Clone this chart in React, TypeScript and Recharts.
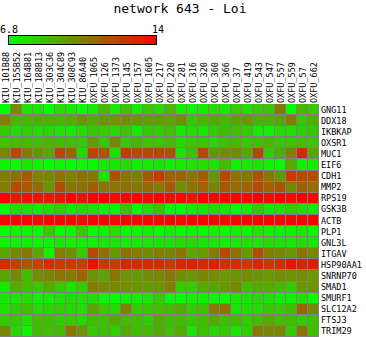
import { ScatterChart, Scatter, XAxis, YAxis, ReferenceArea } from "recharts";

const columns = [
  "KIU_101B88", "KIU_155B52", "KIU_164B81", "KIU_188B13", "KIU_303C36", "KIU_304C89",
  "KIU_308C93", "KIU_86A40", "OXFU_1065", "OXFU_126", "OXFU_1373", "OXFU_145",
  "OXFU_157", "OXFU_1605", "OXFU_217", "OXFU_220", "OXFU_281", "OXFU_316",
  "OXFU_320", "OXFU_360", "OXFU_366", "OXFU_37", "OXFU_419", "OXFU_543",
  "OXFU_547", "OXFU_557", "OXFU_559", "OXFU_57", "OXFU_662",
];

const genes = [
  "GNG11", "DDX18", "IKBKAP", "OXSR1", "MUC1", "EIF6", "CDH1", "MMP2", "RPS19",
  "GSK3B", "ACTB", "PLP1", "GNL3L", "ITGAV", "HSP90AA1", "SNRNP70", "SMAD1",
  "SMURF1", "SLC12A2", "FTSJ3", "TRIM29",
];

// one row of expression values per gene, in column order
const GNG11 = [6.8, 10.0, 7.6, 7.6, 6.8, 7.8, 7.4, 6.8, 7.4, 8.7, 7.4, 8.4, 7.3, 8.3, 7.9, 8.7, 7.4, 7.1, 7.4, 7.8, 7.4, 8.2, 7.8, 8.2, 8.4, 10.6, 6.9, 8.8, 8.3];
const DDX18 = [10.3, 8.8, 9.0, 9.0, 9.0, 8.8, 9.0, 9.7, 9.2, 9.7, 9.7, 9.9, 9.7, 9.5, 9.5, 9.3, 9.9, 8.3, 9.0, 9.2, 8.8, 9.4, 9.7, 9.0, 9.0, 9.3, 10.5, 8.4, 9.0];
const IKBKAP = [8.3, 7.8, 8.2, 7.8, 7.9, 7.5, 7.4, 7.8, 8.3, 8.2, 7.9, 8.4, 7.4, 8.3, 8.2, 8.6, 7.5, 7.7, 7.5, 8.2, 8.7, 8.6, 8.2, 7.4, 7.2, 7.8, 7.8, 8.2, 8.4];
const OXSR1 = [8.4, 8.6, 8.7, 8.6, 8.9, 8.7, 8.6, 8.3, 9.6, 8.3, 10.2, 8.3, 8.9, 8.4, 8.4, 8.7, 7.9, 8.3, 8.4, 7.9, 8.6, 8.7, 8.3, 8.6, 8.9, 8.3, 8.4, 8.6, 8.4];
const MUC1 = [10.2, 11.9, 10.5, 9.8, 9.3, 12.0, 11.3, 7.9, 12.0, 11.5, 7.8, 12.3, 12.0, 12.0, 12.0, 11.7, 7.5, 8.6, 12.0, 9.8, 10.1, 10.1, 9.3, 12.0, 8.3, 9.2, 10.5, 12.9, 9.3];
const EIF6 = [7.2, 6.9, 7.5, 7.1, 6.8, 7.1, 6.9, 6.9, 6.9, 7.4, 7.5, 7.8, 7.2, 7.4, 7.5, 7.2, 7.4, 7.5, 7.8, 7.5, 8.7, 7.2, 7.4, 7.5, 7.2, 6.9, 9.2, 7.2, 7.4];
const CDH1 = [10.5, 10.9, 11.5, 10.3, 10.2, 10.8, 10.3, 10.9, 10.7, 7.5, 11.8, 10.8, 10.5, 11.5, 12.3, 11.3, 11.3, 10.7, 11.5, 9.8, 12.0, 10.7, 10.7, 11.7, 10.7, 9.8, 12.4, 11.9, 11.8];
const MMP2 = [10.5, 11.9, 11.5, 11.0, 9.8, 11.9, 10.7, 10.9, 11.4, 10.7, 10.7, 10.9, 10.7, 11.0, 10.5, 11.4, 10.0, 10.7, 11.2, 10.2, 11.4, 10.9, 11.2, 11.9, 11.3, 11.7, 10.2, 11.3, 10.9];
const RPS19 = [14.0, 13.2, 13.4, 13.4, 13.2, 13.4, 14.0, 13.4, 14.0, 14.0, 13.7, 13.8, 13.9, 13.6, 14.0, 13.6, 13.8, 13.4, 14.0, 13.7, 13.8, 13.9, 13.7, 14.0, 13.6, 13.9, 13.6, 14.0, 13.8];
const GSK3B = [6.9, 7.8, 7.8, 7.4, 7.8, 8.2, 7.5, 7.9, 7.8, 7.1, 7.2, 8.6, 6.9, 7.8, 8.6, 6.9, 6.8, 7.4, 7.5, 7.9, 7.5, 6.9, 7.4, 8.3, 7.5, 7.8, 8.2, 7.8, 7.5];
const ACTB = [14.0, 14.0, 14.0, 13.8, 14.0, 14.0, 13.9, 13.7, 14.0, 14.0, 13.8, 14.0, 14.0, 14.0, 13.8, 14.0, 13.8, 14.0, 14.0, 14.0, 13.8, 14.0, 14.0, 14.0, 14.0, 14.0, 13.9, 14.0, 14.0];
const PLP1 = [6.9, 7.1, 7.1, 6.8, 8.3, 6.8, 6.9, 8.2, 6.9, 7.1, 7.8, 6.9, 6.9, 7.1, 6.9, 7.2, 6.9, 7.1, 6.9, 7.1, 6.9, 7.1, 6.9, 7.4, 7.2, 7.1, 7.1, 7.4, 6.9];
const GNL3L = [7.1, 7.1, 7.2, 6.9, 7.1, 7.4, 7.2, 7.2, 7.1, 7.4, 7.5, 7.2, 7.4, 7.4, 7.5, 7.5, 7.7, 7.8, 7.5, 7.4, 7.2, 7.4, 7.5, 7.4, 7.8, 7.5, 7.4, 7.7, 7.5];
const ITGAV = [9.3, 10.2, 10.7, 9.3, 7.2, 10.5, 10.0, 8.3, 11.9, 10.9, 9.8, 10.9, 10.5, 10.2, 10.5, 10.2, 10.9, 9.3, 9.7, 10.5, 11.9, 10.9, 9.7, 11.9, 10.5, 10.2, 9.8, 10.9, 10.2];
const HSP90AA1 = [12.7, 12.2, 11.5, 11.9, 12.7, 12.4, 12.4, 12.2, 13.6, 12.4, 12.2, 12.9, 12.7, 12.9, 12.7, 12.4, 12.9, 13.2, 12.9, 13.2, 12.7, 12.7, 12.4, 12.9, 12.4, 12.7, 13.4, 12.9, 13.2];
const SNRNP70 = [9.3, 10.2, 8.7, 10.0, 10.2, 10.7, 10.5, 11.2, 9.8, 9.3, 10.7, 9.8, 9.7, 10.0, 10.2, 10.7, 10.0, 9.7, 10.2, 10.0, 9.7, 9.8, 10.0, 9.7, 9.7, 10.0, 9.8, 10.0, 9.7];
const SMAD1 = [7.5, 9.2, 8.7, 8.3, 9.2, 8.3, 7.5, 8.2, 10.5, 10.2, 10.2, 10.0, 9.8, 9.7, 9.8, 10.5, 8.3, 8.2, 9.2, 9.3, 9.7, 10.2, 8.7, 9.2, 9.2, 8.8, 8.2, 9.7, 9.8];
const SMURF1 = [7.5, 7.4, 7.8, 7.1, 7.2, 7.5, 7.8, 7.5, 7.8, 6.9, 6.8, 7.1, 7.2, 7.4, 8.2, 6.9, 6.8, 7.1, 7.2, 6.9, 6.8, 7.4, 7.5, 7.8, 7.5, 7.2, 7.1, 7.5, 6.9];
const SLC12A2 = [7.8, 8.2, 8.6, 7.8, 7.9, 8.2, 7.9, 7.8, 9.3, 8.3, 7.9, 10.2, 8.2, 8.3, 8.6, 8.7, 9.2, 8.2, 8.6, 10.5, 10.7, 7.5, 7.8, 7.8, 8.3, 8.2, 8.7, 11.2, 10.2];
const FTSJ3 = [8.3, 8.3, 7.8, 8.6, 8.6, 8.2, 8.3, 7.9, 8.7, 8.6, 9.2, 8.7, 8.7, 8.2, 9.2, 8.6, 8.7, 8.3, 8.7, 9.2, 8.6, 8.7, 8.3, 8.7, 9.2, 8.6, 8.7, 8.2, 8.6];
const TRIM29 = [10.2, 7.9, 7.2, 8.7, 8.6, 8.7, 10.7, 9.8, 8.3, 8.6, 8.2, 9.2, 8.7, 8.7, 9.2, 8.6, 9.2, 7.5, 8.6, 7.9, 8.3, 7.5, 8.2, 10.5, 10.2, 10.2, 8.3, 10.7, 8.6];

const rowValues = [
  GNG11, DDX18, IKBKAP, OXSR1, MUC1, EIF6, CDH1, MMP2, RPS19, GSK3B, ACTB,
  PLP1, GNL3L, ITGAV, HSP90AA1, SNRNP70, SMAD1, SMURF1, SLC12A2, FTSJ3, TRIM29,
];

const scaleMin = 6.8;
const scaleMax = 14;

const WIDTH = 366;
const HEIGHT = 337;
const PLOT_TOP = 104;
const PLOT_W = 319;
const LABEL_W = WIDTH - PLOT_W;
const TOP_AXIS_H = 54;
const FONT = "'DejaVu Sans Mono', monospace";

const cellW = PLOT_W / columns.length;
const cellH = (HEIGHT - PLOT_TOP) / genes.length;

function heatColor(v: number) {
  const t = Math.max(0, Math.min(1, (v - scaleMin) / (scaleMax - scaleMin)));
  return `rgb(${Math.round(255 * t)},${Math.round(255 * (1 - t))},0)`;
}

const cells = rowValues.flatMap((row, y) => row.map((v, x) => ({ x, y, v })));

const HeatCell = (props: any) => {
  const { cx, cy, payload } = props;
  return (
    <rect
      x={cx - cellW / 2}
      y={cy - cellH / 2}
      width={cellW - 1}
      height={cellH - 1}
      fill={heatColor(payload.v)}
      shapeRendering="crispEdges"
    />
  );
};

const ColumnTick = (props: any) => {
  const { x, payload } = props;
  return (
    <text
      x={x}
      y={PLOT_TOP - 1}
      transform={`rotate(-90 ${x} ${PLOT_TOP - 1})`}
      textAnchor="start"
      dominantBaseline="central"
      fontFamily={FONT}
      fontSize={8.5}
      fill="#000"
    >
      {columns[payload.value]}
    </text>
  );
};

const RowTick = (props: any) => {
  const { x, y, payload } = props;
  return (
    <text
      x={x}
      y={y}
      textAnchor="start"
      dominantBaseline="central"
      fontFamily={FONT}
      fontSize={8.5}
      fill="#000"
    >
      {genes[payload.value]}
    </text>
  );
};

export default function App() {
  return (
    <div
      style={{
        position: "absolute",
        left: 0,
        top: 0,
        width: WIDTH,
        height: HEIGHT,
        background: "#fff",
      }}
    >
      <svg
        width={WIDTH}
        height={60}
        style={{ position: "absolute", left: 0, top: 0 }}
      >
        <defs>
          <linearGradient id="scaleGrad" x1="0" x2="1" y1="0" y2="0">
            <stop offset="0%" stopColor={heatColor(scaleMin)} />
            <stop offset="50%" stopColor={heatColor((scaleMin + scaleMax) / 2)} />
            <stop offset="100%" stopColor={heatColor(scaleMax)} />
          </linearGradient>
        </defs>
        <text x={180} y={13} textAnchor="middle" fontFamily={FONT} fontSize={13} fill="#000">
          network 643 - Loi
        </text>
        <text x={0} y={33} fontFamily={FONT} fontSize={10} fill="#000">
          {scaleMin}
        </text>
        <text x={152} y={33} fontFamily={FONT} fontSize={10} fill="#000">
          {scaleMax}
        </text>
        <rect
          x={8.5}
          y={35.5}
          width={148}
          height={9}
          fill="url(#scaleGrad)"
          stroke="#000"
          strokeWidth={1}
        />
      </svg>
      <div style={{ position: "absolute", left: 0, top: 0 }}>
        <ScatterChart
          width={WIDTH}
          height={HEIGHT}
          margin={{ top: PLOT_TOP - TOP_AXIS_H, right: 0, bottom: 0, left: 0 }}
        >
          <XAxis
            type="number"
            dataKey="x"
            orientation="top"
            height={TOP_AXIS_H}
            domain={[-0.5, columns.length - 0.5]}
            ticks={columns.map((_, i) => i)}
            interval={0}
            tick={<ColumnTick />}
            tickLine={false}
            axisLine={false}
          />
          <YAxis
            type="number"
            dataKey="y"
            orientation="right"
            width={LABEL_W}
            reversed
            domain={[-0.5, genes.length - 0.5]}
            ticks={genes.map((_, i) => i)}
            interval={0}
            tick={<RowTick />}
            tickSize={0}
            tickMargin={2}
            tickLine={false}
            axisLine={false}
          />
          <ReferenceArea
            x1={-0.5}
            x2={columns.length - 0.5}
            y1={-0.5}
            y2={genes.length - 0.5}
            fill="#808080"
            fillOpacity={1}
            stroke="none"
          />
          <Scatter data={cells} shape={<HeatCell />} isAnimationActive={false} />
        </ScatterChart>
      </div>
    </div>
  );
}
